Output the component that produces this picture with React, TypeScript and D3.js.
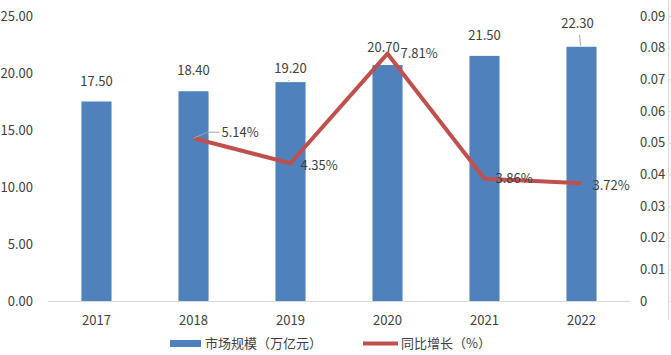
import React from "react";
import * as d3 from "d3";

const years = ["2017", "2018", "2019", "2020", "2021", "2022"];
const marketSize = [17.5, 18.4, 19.2, 20.7, 21.5, 22.3];
const growth: (number | null)[] = [null, 0.0514, 0.0435, 0.0781, 0.0386, 0.0372];
const growthLabels = ["", "5.14%", "4.35%", "7.81%", "3.86%", "3.72%"];
const leftTicks = [0, 5, 10, 15, 20, 25];
const rightTicks = [0, 0.01, 0.02, 0.03, 0.04, 0.05, 0.06, 0.07, 0.08, 0.09];
const legendBar = "市场规模（万亿元）";
const legendLine = "同比增长（%）";

const W = 671, H = 355;
const left = 48, right = 630, top = 16, bottom = 301;
const FONT = "'Noto Sans CJK SC', 'Microsoft YaHei', sans-serif";
const TXT = "#404040";
const BAR = "#4F81BD";
const LINE = "#C0504D";

export default function App() {
  const x = d3.scaleBand().domain(years).range([left, right]).paddingInner(0.69).paddingOuter(0.345);
  const yL = d3.scaleLinear().domain([0, 25]).range([bottom, top]);
  const yR = d3.scaleLinear().domain([0, 0.09]).range([bottom, top]);
  const cx = (y: string) => (x(y) as number) + x.bandwidth() / 2;

  const pts = years.map((y, i) => ({ y, v: growth[i] })).filter((d) => d.v !== null) as { y: string; v: number }[];
  const line = d3.line<{ y: string; v: number }>().x((d) => cx(d.y)).y((d) => yR(d.v));

  // bar label offsets (dx, dy above bar top) and leader flags
  const barLabelDy = [-16, -16, -9, -13, -16, -19];
  const barLeader = [false, false, true, false, false, true];
  const barLabelDx = [0, 0, 0, -4, 0, -4];
  // growth label offsets relative to point
  const gLabel: [number, number][] = [[0, 0], [28, -6], [10, 2], [13, 0], [11, 0], [11, 2]];

  return (
    <svg width={W} height={H} style={{ position: "absolute", left: 0, top: 0, background: "#fff" }} fontFamily={FONT}>
      {/* baseline */}
      <line x1={left} x2={right} y1={bottom + 0.5} y2={bottom + 0.5} stroke="#d9d9d9" strokeWidth={1} />
      {/* right frame axis */}
      <line x1={668.5} x2={668.5} y1={0} y2={H - 35} stroke="#d9d9d9" strokeWidth={1} />
      {rightTicks.map((t) => (
        <line key={"rt" + t} x1={668} x2={671} y1={yR(t) + 0.5} y2={yR(t) + 0.5} stroke="#d9d9d9" />
      ))}
      {/* left ticks */}
      {leftTicks.map((t) => (
        <text key={"l" + t} x={33} y={yL(t)} dy="0.35em" textAnchor="end" fontSize={13} fill={TXT}>
          {t.toFixed(2)}
        </text>
      ))}
      {rightTicks.map((t) => (
        <text key={"r" + t} x={640} y={yR(t)} dy="0.35em" textAnchor="start" fontSize={13} fill={TXT}>
          {t === 0 ? "0" : t.toFixed(2)}
        </text>
      ))}
      {/* bars */}
      {years.map((y, i) => (
        <rect key={"b" + y} x={x(y)} y={yL(marketSize[i])} width={x.bandwidth()} height={bottom - yL(marketSize[i])} fill={BAR} />
      ))}
      {/* x labels */}
      {years.map((y) => (
        <text key={"x" + y} x={cx(y)} y={320} dy="0.35em" textAnchor="middle" fontSize={13} fill={TXT}>
          {y}
        </text>
      ))}
      {/* line */}
      <path d={line(pts) || ""} fill="none" stroke={LINE} strokeWidth={4} strokeLinejoin="round" strokeLinecap="butt" />
      {/* bar labels */}
      {years.map((y, i) => {
        const tx = cx(y) + barLabelDx[i];
        const ty = yL(marketSize[i]) + barLabelDy[i];
        return (
          <g key={"bl" + y}>
            {barLeader[i] && (
              <line x1={cx(y) - 2} y1={ty + 7} x2={cx(y) - 1} y2={yL(marketSize[i]) - 1} stroke="#a6a6a6" strokeWidth={1} />
            )}
            <text x={tx} y={ty} dy="0.0em" textAnchor="middle" fontSize={13} fill={TXT}>
              {marketSize[i].toFixed(2)}
            </text>
          </g>
        );
      })}
      {/* growth labels */}
      {years.map((y, i) => {
        if (growth[i] === null) return null;
        const px = cx(y), py = yR(growth[i] as number);
        const lx = px + gLabel[i][0], ly = py + gLabel[i][1];
        return (
          <g key={"gl" + y}>
            {i === 1 && (
              <polyline points={`${px},${py} ${px + 14},${ly} ${lx - 2},${ly}`} fill="none" stroke="#a6a6a6" strokeWidth={1} />
            )}
            <text x={lx} y={ly} dy="0.35em" textAnchor="start" fontSize={13} fill={TXT}>
              {growthLabels[i]}
            </text>
          </g>
        );
      })}
      {/* legend */}
      <rect x={170} y={340} width={31} height={7} fill={BAR} />
      <text x={205} y={343.5} dy="0.35em" fontSize={13} fill={TXT}>{legendBar}</text>
      <line x1={363} x2={398} y1={343.5} y2={343.5} stroke={LINE} strokeWidth={4} />
      <text x={401} y={343.5} dy="0.35em" fontSize={13} fill={TXT}>{legendLine}</text>
    </svg>
  );
}
